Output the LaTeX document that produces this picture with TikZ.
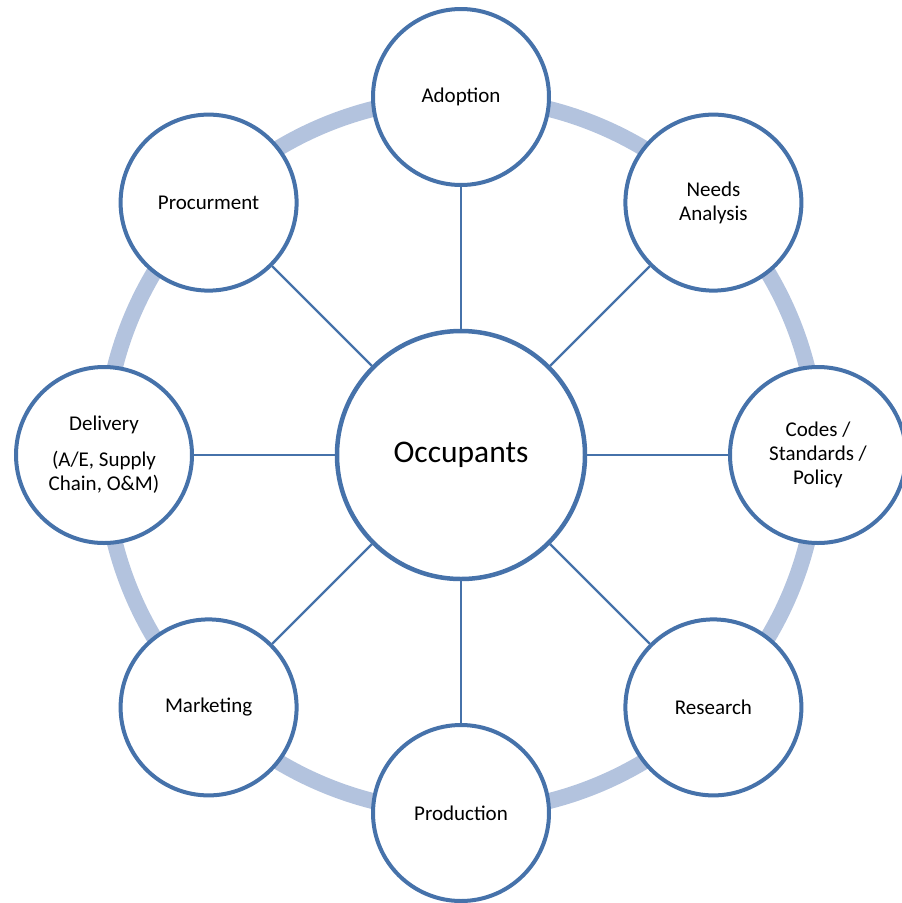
\documentclass[tikz,border=0pt]{standalone}
\usepackage{fontspec}
\setmainfont{Carlito}
\definecolor{hubblue}{RGB}{70,114,170}
\definecolor{ringblue}{RGB}{179,195,222}
\begin{document}
\begin{tikzpicture}[x=1pt,y=-1pt,
  outer/.style={circle,draw=hubblue,line width=4pt,fill=white,minimum size=176pt,
    inner sep=0pt,align=center,font=\fontsize{21}{24}\selectfont},
  hub/.style={circle,draw=hubblue,line width=4.5pt,fill=white,minimum size=248pt,
    inner sep=0pt,font=\fontsize{31.5}{36}\selectfont},
  spoke/.style={draw=hubblue,line width=2.3pt}]
\useasboundingbox (0,0) rectangle (902,903);
% ring behind the stages
\draw[ringblue,line width=16pt] (461,455) circle[radius=357];
% central node
\node[hub] (occ) at (461,455) {Occupants};
% stages around the ring
\node[outer] (adopt) at (461,97) {Adoption};
\node[outer] (needs) at (713.4,202.6) {Needs\\Analysis};
\node[outer] (codes) at (818,455) {Codes /\\Standards /\\Policy};
\node[outer] (research) at (713.4,707.4) {Research};
\node[outer] (prod) at (461,813) {Production};
\node[outer] (market) at (208.6,707.4) {Marketing};
\node[outer] (deliv) at (104,455) {Delivery\\[12pt](A/E, Supply\\Chain, O\&M)};
\node[outer] (procure) at (208.6,202.6) {Procurment};
% spokes from the hub to every stage
\foreach \n in {adopt,needs,codes,research,prod,market,deliv,procure}
  \draw[spoke] (occ) -- (\n);
\end{tikzpicture}
\end{document}
